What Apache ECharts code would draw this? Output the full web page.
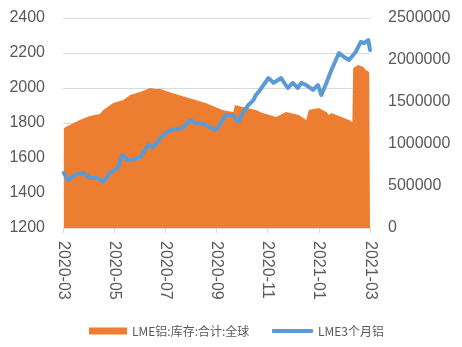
<!DOCTYPE html>
<html>
<head>
<meta charset="utf-8">
<script src="https://cdn.jsdelivr.net/npm/echarts@6/dist/echarts.min.js"></script>
<style>html,body{margin:0;padding:0;background:#fff}#c{width:462px;height:347px}</style>
</head>
<body>
<div id="c"></div>
<script>
var tickLabels = ['2020-03','2020-05','2020-07','2020-09','2020-11','2021-01','2021-03'];
var stockName = 'LME铝:库存:合计:全球';
var priceName = 'LME3个月铝';

var priceDates = ['2020-03-02','2020-03-07','2020-03-15','2020-03-25','2020-04-02','2020-04-11','2020-04-18','2020-04-26','2020-05-05','2020-05-11','2020-05-17','2020-05-24','2020-06-01','2020-06-11','2020-06-17','2020-06-25','2020-07-03','2020-07-09','2020-07-21','2020-07-31','2020-08-06','2020-08-14','2020-08-22','2020-08-30','2020-09-02','2020-09-11','2020-09-19','2020-09-26','2020-10-02','2020-10-08','2020-10-14','2020-10-17','2020-10-22','2020-11-01','2020-11-07','2020-11-16','2020-11-24','2020-11-30','2020-12-06','2020-12-10','2020-12-16','2020-12-24','2020-12-30','2021-01-03','2021-01-09','2021-01-15','2021-01-24','2021-01-30','2021-02-05','2021-02-13','2021-02-19','2021-02-23','2021-02-28','2021-03-02'];
var priceValues = [1514,1474,1503,1514,1486,1486,1463,1514,1543,1617,1589,1589,1606,1674,1663,1714,1749,1760,1771,1817,1800,1800,1777,1760,1777,1846,1846,1806,1863,1903,1931,1960,1989,2057,2029,2057,2000,2029,2000,2029,2017,1989,2017,1960,2029,2103,2200,2177,2160,2206,2263,2257,2274,2217];

var stockDates = ['2020-03-02','2020-03-09','2020-03-21','2020-04-02','2020-04-14','2020-04-18','2020-04-30','2020-05-12','2020-05-20','2020-06-01','2020-06-13','2020-06-19','2020-06-25','2020-07-09','2020-07-29','2020-08-18','2020-09-07','2020-09-20','2020-09-22','2020-10-01','2020-10-17','2020-10-25','2020-11-10','2020-11-22','2020-12-07','2020-12-16','2020-12-19','2020-12-31','2021-01-09','2021-01-12','2021-01-15','2021-02-05','2021-02-09','2021-02-10','2021-02-16','2021-02-22','2021-02-25','2021-03-01','2021-03-02'];
var stockValues = [1190000,1226000,1286000,1333000,1357000,1405000,1488000,1524000,1583000,1619000,1667000,1655000,1655000,1607000,1548000,1488000,1405000,1381000,1464000,1440000,1405000,1369000,1321000,1381000,1345000,1286000,1405000,1429000,1381000,1345000,1369000,1286000,1262000,1905000,1940000,1917000,1881000,1857000,1857000];

function dayOf(s){ var p = s.split('-'); return Math.round((Date.UTC(+p[0], +p[1]-1, +p[2]) - Date.UTC(2020,2,1)) / 86400000); }
function pairs(d, v){ return d.map(function(x,i){ return [dayOf(x), v[i]]; }); }
function plain(v){ return String(v); }

var chart = echarts.init(document.getElementById('c'));
var font = 'Liberation Sans, Arial, sans-serif';
chart.setOption({
  animation: false,
  grid: { left: 63, right: 92, top: 18, bottom: 119, containLabel: false },
  legend: [
    { data: [stockName], left: 84, top: 320, itemWidth: 38, itemHeight: 7, itemGap: 4, icon: 'rect',
      textStyle: { fontSize: 12, color: '#595959', fontFamily: 'Noto Sans CJK SC' } },
    { data: [priceName], left: 267, top: 320, itemWidth: 41, itemHeight: 4, itemGap: 4, icon: 'roundRect',
      textStyle: { fontSize: 12, color: '#595959', fontFamily: 'Noto Sans CJK SC' } }
  ],
  xAxis: {
    type: 'value',
    min: 0, max: 366, interval: 61,
    axisLine: { show: true, lineStyle: { color: '#D9D9D9', width: 1 } },
    axisTick: { show: true, length: 5, lineStyle: { color: '#D9D9D9' } },
    splitLine: { show: false },
    axisLabel: {
      rotate: -90, margin: 13, fontSize: 16, color: '#595959', fontFamily: font,
      formatter: function(v){ return tickLabels[Math.round(v / 61)] || ''; }
    }
  },
  yAxis: [
    { type: 'value', min: 1200, max: 2400, interval: 200, position: 'left',
      axisLine: { show: false }, axisTick: { show: false },
      splitLine: { lineStyle: { color: '#D9D9D9', width: 1 } },
      axisLabel: { fontSize: 16, color: '#595959', fontFamily: font, margin: 18, formatter: plain } },
    { type: 'value', min: 0, max: 2500000, interval: 500000, position: 'right',
      axisLine: { show: false }, axisTick: { show: false }, splitLine: { show: false },
      axisLabel: { fontSize: 16, color: '#595959', fontFamily: font, margin: 18, formatter: plain } }
  ],
  series: [
    { name: stockName, type: 'line', yAxisIndex: 1, data: pairs(stockDates, stockValues),
      symbol: 'none', lineStyle: { width: 0, color: '#ED7D31' }, itemStyle: { color: '#ED7D31' },
      areaStyle: { color: '#ED7D31', opacity: 1 } },
    { name: priceName, type: 'line', yAxisIndex: 0, data: pairs(priceDates, priceValues),
      symbol: 'none', lineStyle: { width: 4, color: '#5B9BD5', join: 'round', cap: 'round' }, itemStyle: { color: '#5B9BD5' } }
  ]
});
</script>
</body>
</html>
